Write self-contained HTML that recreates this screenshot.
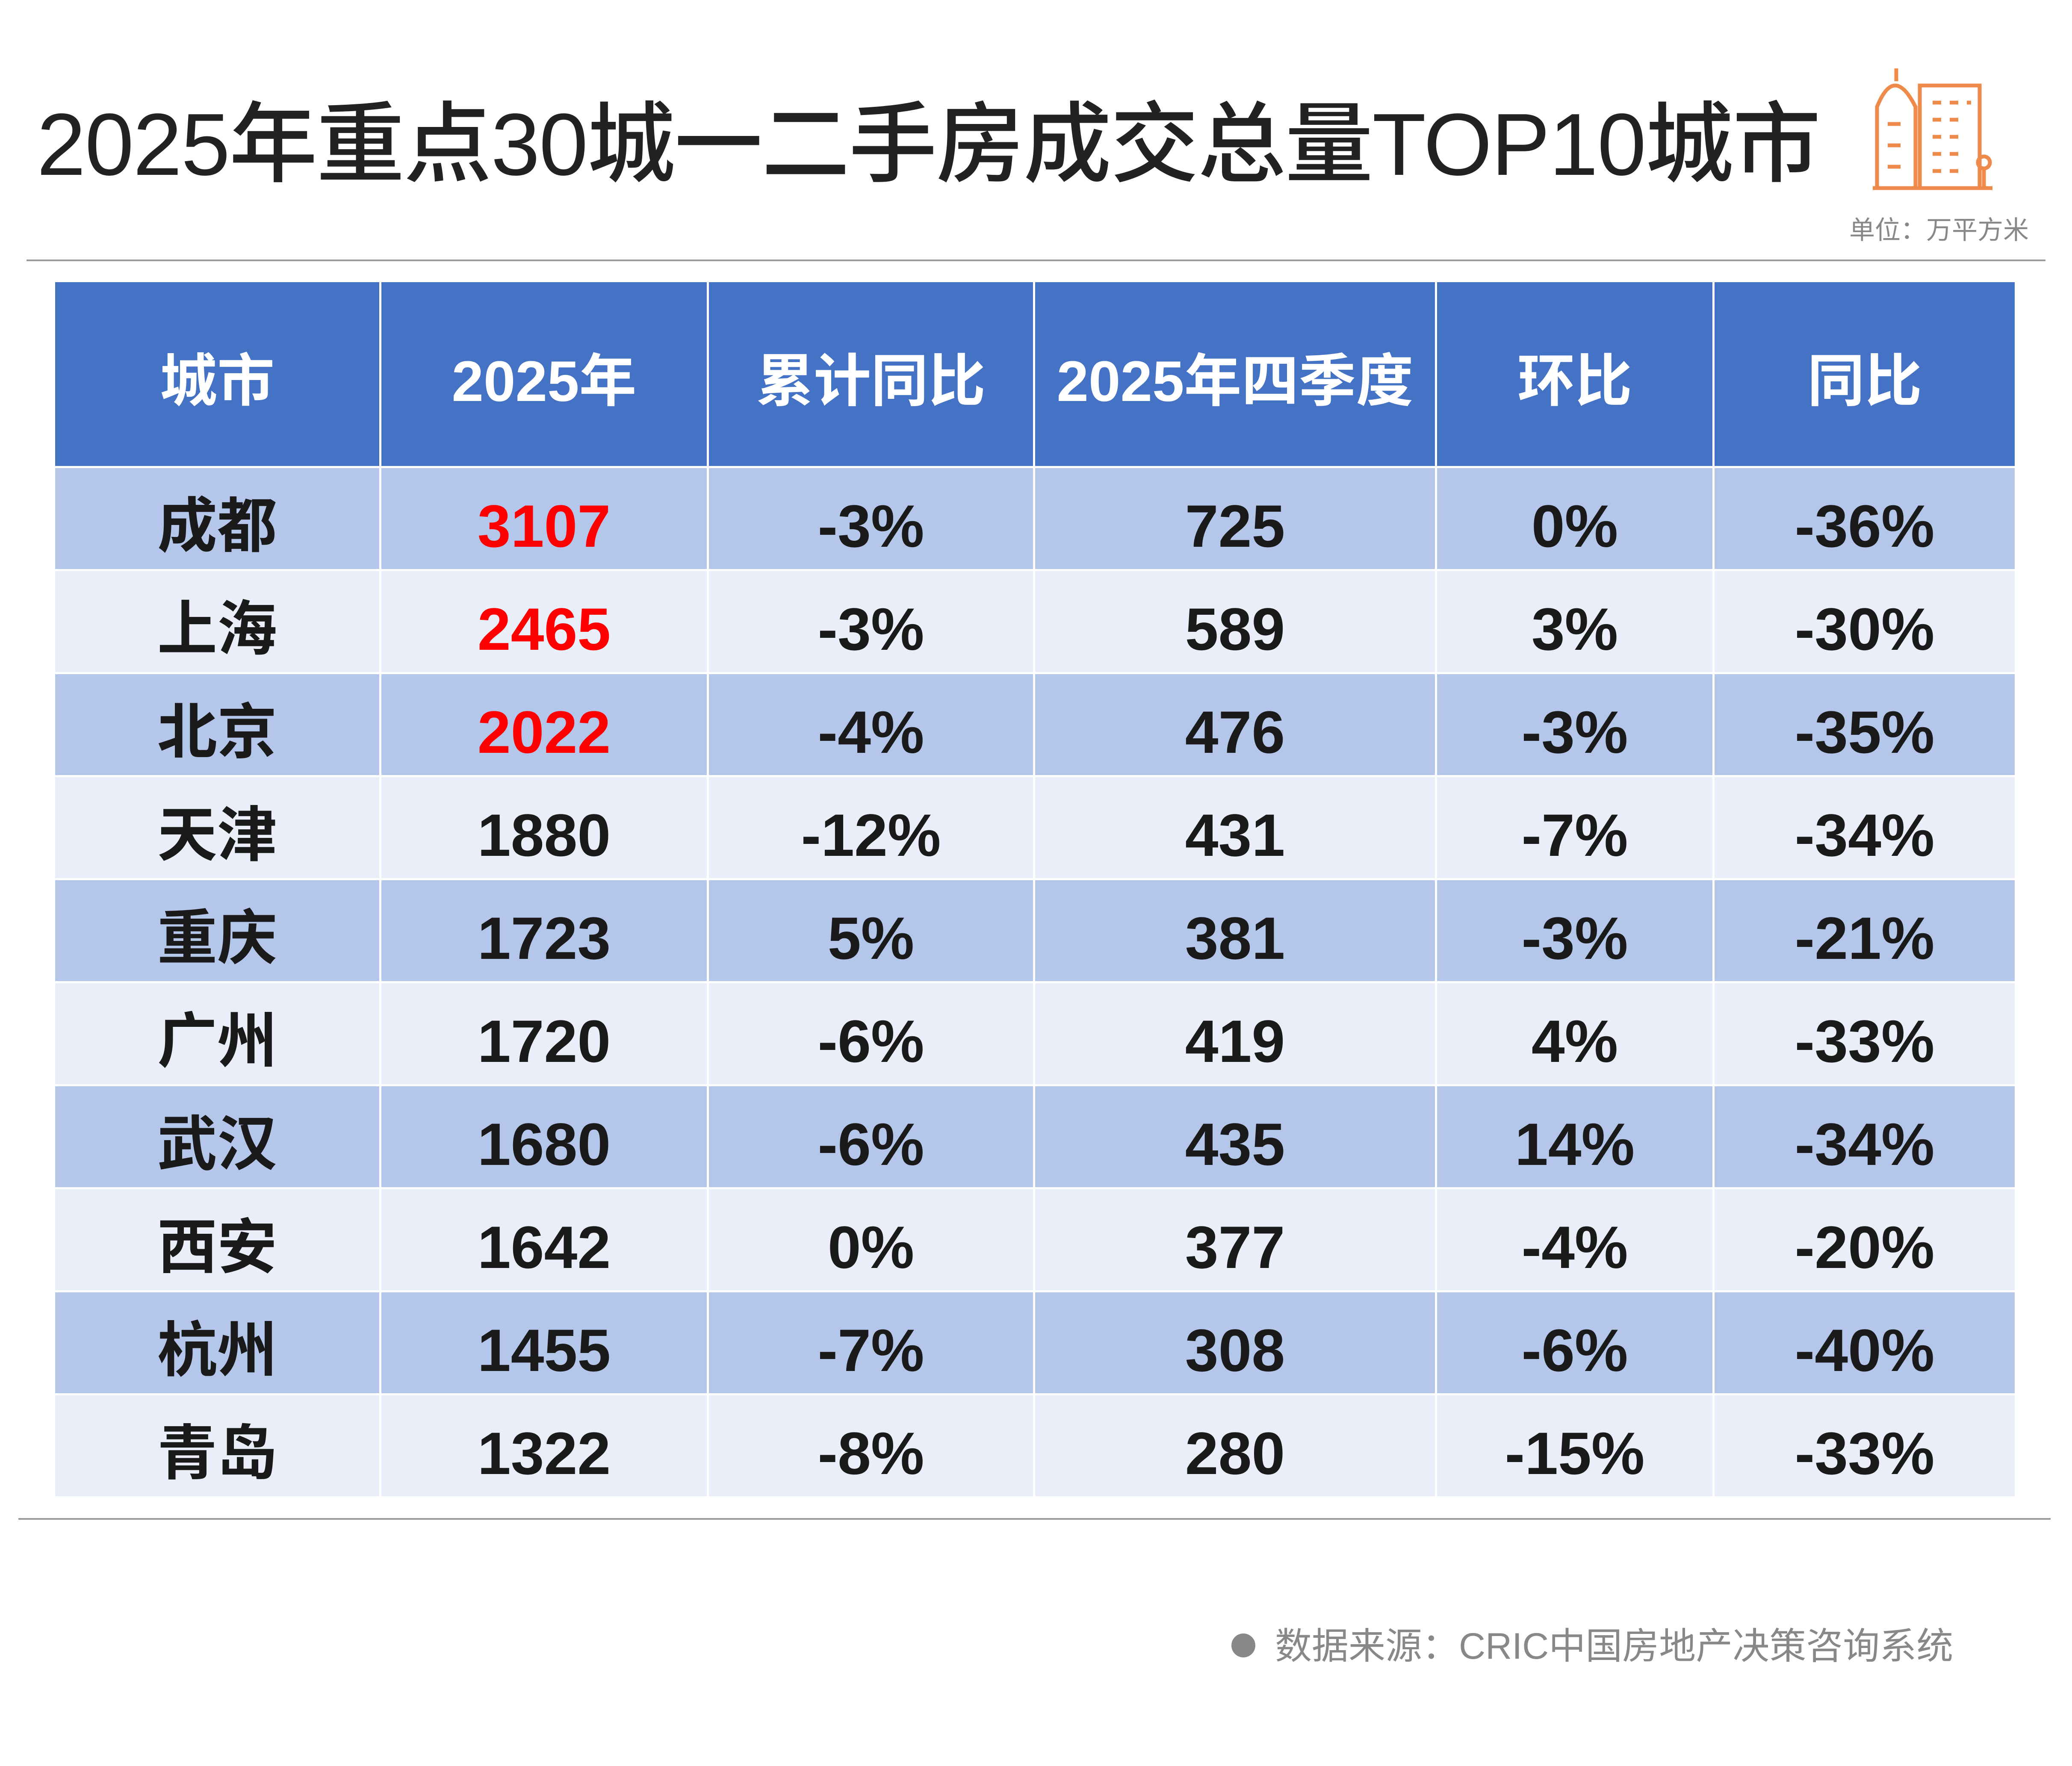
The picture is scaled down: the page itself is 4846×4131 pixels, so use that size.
<!DOCTYPE html>
<html><head><meta charset="utf-8"><style>
body{margin:0;width:4846px;height:4131px;background:#fff;position:relative;overflow:hidden;font-family:"Liberation Sans","Noto Sans CJK SC",sans-serif;}
.title{position:absolute;left:86px;top:235px;font-size:206px;font-weight:500;color:#222;white-space:nowrap;line-height:1;letter-spacing:-2px}
.unit{position:absolute;left:4325px;top:490px;font-size:60px;color:#888;white-space:nowrap}
.hl{position:absolute;height:4px;background:#999}
table{position:absolute;left:124px;top:655px;width:4588px;border-collapse:collapse;table-layout:fixed}
td,th{border:5px solid #fff;text-align:center;font-weight:bold;font-size:140px;color:#1a1a1a;padding:0;line-height:1}
th{background:#4472c4;color:#fff;height:395px;padding-top:35px;font-size:134px}
tr td{height:201px;padding-top:35px}
tr:nth-child(even) td{background:#b4c6ea}
tr:nth-child(odd) td{background:#eaeef8}
.r{color:#f00}
.src{position:absolute;left:2880px;top:3780px;font-size:86px;color:#888;white-space:nowrap}
.dot{display:inline-block;width:56px;height:56px;border-radius:50%;background:#888;margin-right:46px;vertical-align:middle;position:relative;top:-8px}
</style></head><body>
<div class="title">2025年重点30城一二手房成交总量TOP10城市</div>
<svg style="position:absolute;left:4370px;top:140px" width="300" height="310" viewBox="0 0 300 310" fill="none" stroke="#ee8a4a" stroke-width="9">
<path d="M10 300 H290"/><path d="M20 300 V110 Q60 10 110 110 V300"/><path d="M65 50 V20"/>
<path d="M120 300 V60 H260 V300"/><path d="M45 150h30M45 200h30M45 250h30"/>
<path d="M150 100h20M190 100h20M230 100h10M150 140h20M190 140h20M150 180h20M190 180h20M150 220h20M190 220h20M150 260h20M190 260h20"/>
<circle cx="270" cy="240" r="14"/><path d="M270 255 V300"/>
</svg>
<div class="unit">单位：万平方米</div>
<div class="hl" style="left:62px;top:607px;width:4722px"></div>
<table>
<colgroup><col style="width:763px"><col style="width:766px"><col style="width:763px"><col style="width:940px"><col style="width:649px"><col style="width:707px"></colgroup>
<tr><th>城市</th><th>2025年</th><th>累计同比</th><th>2025年四季度</th><th>环比</th><th>同比</th></tr>
<tr><td>成都</td><td class="r">3107</td><td>-3%</td><td>725</td><td>0%</td><td>-36%</td></tr>
<tr><td>上海</td><td class="r">2465</td><td>-3%</td><td>589</td><td>3%</td><td>-30%</td></tr>
<tr><td>北京</td><td class="r">2022</td><td>-4%</td><td>476</td><td>-3%</td><td>-35%</td></tr>
<tr><td>天津</td><td>1880</td><td>-12%</td><td>431</td><td>-7%</td><td>-34%</td></tr>
<tr><td>重庆</td><td>1723</td><td>5%</td><td>381</td><td>-3%</td><td>-21%</td></tr>
<tr><td>广州</td><td>1720</td><td>-6%</td><td>419</td><td>4%</td><td>-33%</td></tr>
<tr><td>武汉</td><td>1680</td><td>-6%</td><td>435</td><td>14%</td><td>-34%</td></tr>
<tr><td>西安</td><td>1642</td><td>0%</td><td>377</td><td>-4%</td><td>-20%</td></tr>
<tr><td>杭州</td><td>1455</td><td>-7%</td><td>308</td><td>-6%</td><td>-40%</td></tr>
<tr><td>青岛</td><td>1322</td><td>-8%</td><td>280</td><td>-15%</td><td>-33%</td></tr>
</table>
<div class="hl" style="left:43px;top:3551px;width:4753px"></div>
<div class="src"><span class="dot"></span>数据来源：CRIC中国房地产决策咨询系统</div>
</body></html>
